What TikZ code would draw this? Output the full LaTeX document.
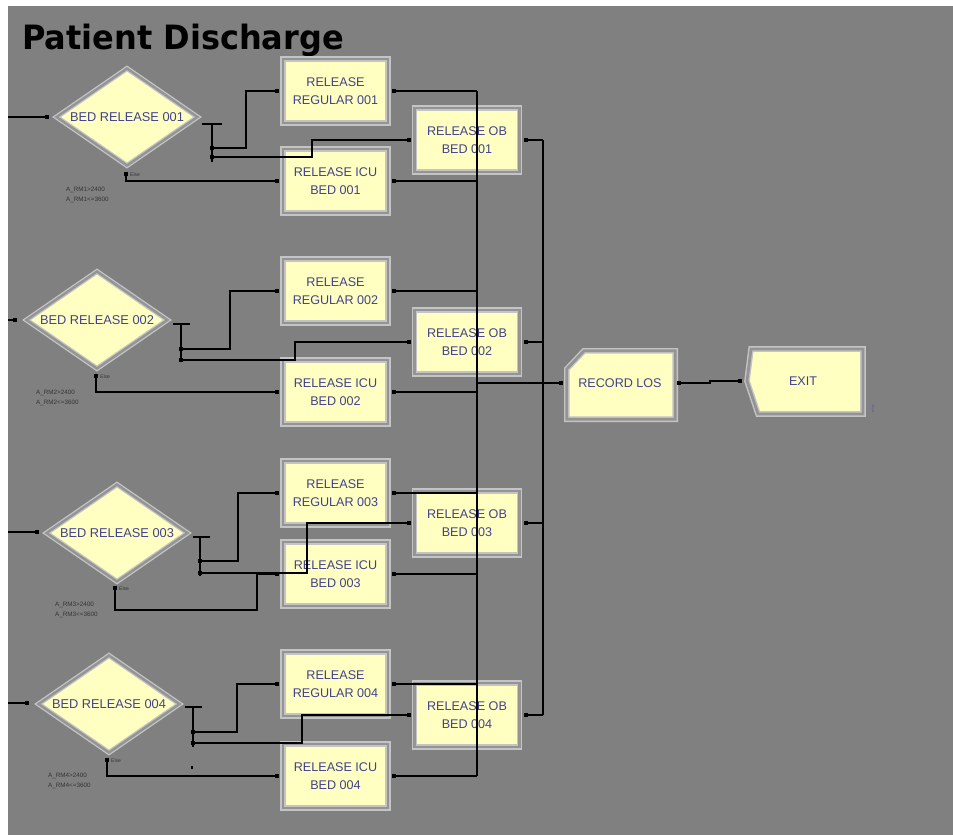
\documentclass[tikz,border=0pt]{standalone}
\usepackage{graphicx}
\usepackage{fontspec}
\setmainfont{Liberation Sans}
\newfontfamily\titlefont{DejaVu Sans}
\usetikzlibrary{shapes.geometric}
\definecolor{bggray}{RGB}{128,128,128}
\definecolor{modyellow}{RGB}{255,255,194}
\definecolor{framegray}{RGB}{196,196,196}
\definecolor{gapgray}{RGB}{148,148,148}
\definecolor{modtext}{RGB}{66,66,140}
\definecolor{lbltext}{RGB}{52,52,52}
\definecolor{cnttext}{RGB}{96,80,176}
\newcommand\mydot[1]{\fill[black] ([shift={(-2,-2)}]#1) rectangle ([shift={(2,2)}]#1);}
\begin{document}
\begin{tikzpicture}[x=1pt,y=-1pt,
  modbox/.style={rectangle, fill=modyellow, draw=framegray, line width=1.4pt,
    double=gapgray, double distance=2.8pt, minimum width=105pt, minimum height=64pt,
    inner sep=0pt, outer sep=6pt, align=center, text=modtext,
    font=\fontsize{12.6}{18}\selectfont},
  modshape/.style={fill=modyellow, draw=framegray, line width=1.4pt,
    double=gapgray, double distance=2.8pt},
  decide/.style={diamond, aspect=1.45, fill=modyellow, draw=framegray, line width=1.3pt,
    double=gapgray, double distance=2.4pt, minimum width=141pt, minimum height=97pt,
    inner sep=0pt, outer sep=0pt, text=modtext, font=\fontsize{12.8}{15}\selectfont},
  plain/.style={inner sep=0pt, text=modtext, font=\fontsize{12.6}{15}\selectfont},
  conn/.style={draw=black, line width=2pt},
  cond/.style={font=\fontsize{6.3}{7}\selectfont, text=lbltext, anchor=west, inner sep=0pt},
  elsetxt/.style={font=\fontsize{5}{6}\selectfont, text=lbltext, anchor=west, inner sep=0pt}
]
\useasboundingbox (0,0) rectangle (953,835);
\fill[white] (0,0) rectangle (953,835);
\fill[bggray] (8,6) rectangle (953,835);

% title
\node[anchor=base west, inner sep=0pt] (title) at (22,49)
  {\titlefont\bfseries\fontsize{33.5}{36}\selectfont\scalebox{0.955}[1]{Patient Discharge}};

% decide modules
\node[decide] (d1) at (127,117) {BED RELEASE 001};
\node[decide] (d2) at (97,320) {BED RELEASE 002};
\node[decide] (d3) at (117,533) {BED RELEASE 003};
\node[decide] (d4) at (109,704) {BED RELEASE 004};

% release modules
\node[modbox] (reg1) at (335.5,91) {RELEASE\\REGULAR 001};
\node[modbox] (icu1) at (335.5,181) {RELEASE ICU\\BED 001};
\node[modbox] (ob1) at (467,140) {RELEASE OB\\BED 001};
\node[modbox] (reg2) at (335.5,291) {RELEASE\\REGULAR 002};
\node[modbox] (ob2) at (467,342) {RELEASE OB\\BED 002};
\node[modbox] (icu2) at (335.5,392) {RELEASE ICU\\BED 002};
\node[modbox] (reg3) at (335.5,493) {RELEASE\\REGULAR 003};
\node[modbox] (ob3) at (467,523) {RELEASE OB\\BED 003};
\node[modbox] (icu3) at (335.5,574) {RELEASE ICU\\BED 003};
\node[modbox] (reg4) at (335.5,684) {RELEASE\\REGULAR 004};
\node[modbox] (ob4) at (467,715) {RELEASE OB\\BED 004};
\node[modbox] (icu4) at (335.5,776) {RELEASE ICU\\BED 004};

% record and exit
\path[modshape] (566.8,369) -- (584,350.8) -- (675.2,350.8) -- (675.2,419.2) -- (566.8,419.2) -- cycle;
\node[plain, minimum width=118pt, minimum height=70pt] (rec) at (620,383) {RECORD LOS};
\path[modshape] (751,349) -- (863,349) -- (863,414) -- (758,414) -- (747,381) -- cycle;
\node[plain, minimum width=126pt, minimum height=66pt] (exitn) at (803,381) {EXIT};
\node[inner sep=0pt, text=cnttext, font=\fontsize{9}{9}\selectfont] (cnt) at (873,409) {\scalebox{0.45}[1.2]{0}};

% condition labels
\node[cond] (c1a) at (66,190) {A\_RM1>2400};
\node[cond] (c1b) at (66,200) {A\_RM1<=3600};
\node[cond] (c2a) at (36,393) {A\_RM2>2400};
\node[cond] (c2b) at (36,403) {A\_RM2<=3600};
\node[cond] (c3a) at (55,605) {A\_RM3>2400};
\node[cond] (c3b) at (55,615) {A\_RM3<=3600};
\node[cond] (c4a) at (48,776) {A\_RM4>2400};
\node[cond] (c4b) at (48,786) {A\_RM4<=3600};

% ports of decide modules
\coordinate (src1) at (8,117);   \coordinate (d1in) at (47,117);
\coordinate (src2) at (8,320);   \coordinate (d2in) at (15,320);
\coordinate (src3) at (8,532);   \coordinate (d3in) at (37,532);
\coordinate (src4) at (8,703);   \coordinate (d4in) at (27,703);

\coordinate (d1s) at (202,124); \coordinate (d1t) at (212,124); \coordinate (d1u) at (212,162);
\coordinate (d1b1) at (212,148); \coordinate (d1b2) at (212,157); \coordinate (d1e) at (126,174);
\coordinate (d2s) at (173,324); \coordinate (d2t) at (181,324); \coordinate (d2u) at (181,362);
\coordinate (d2b1) at (181,349); \coordinate (d2b2) at (181,360); \coordinate (d2e) at (96,376);
\coordinate (d3s) at (193,537); \coordinate (d3t) at (200,537); \coordinate (d3u) at (200,576);
\coordinate (d3b1) at (200,561); \coordinate (d3b2) at (200,573); \coordinate (d3e) at (115,588);
\coordinate (d4s) at (185,707); \coordinate (d4t) at (193,707); \coordinate (d4u) at (193,747);
\coordinate (d4b1) at (193,732); \coordinate (d4b2) at (193,743); \coordinate (d4e) at (107,760);

\node[elsetxt] (e1) at (130,175) {Else};
\node[elsetxt] (e2) at (100,377) {Else};
\node[elsetxt] (e3) at (119,589) {Else};
\node[elsetxt] (e4) at (111,761) {Else};

% inputs
\draw[conn] (src1) -- (d1in);
\draw[conn] (src2) -- (d2in);
\draw[conn] (src3) -- (d3in);
\draw[conn] (src4) -- (d4in);

% exit bars
\draw[conn] (d1s) -- ++(20,0); \draw[conn] (d1t) -- (d1u);
\draw[conn] (d2s) -- ++(17,0); \draw[conn] (d2t) -- (d2u);
\draw[conn] (d3s) -- ++(17,0); \draw[conn] (d3t) -- (d3u);
\draw[conn] (d4s) -- ++(17,0); \draw[conn] (d4t) -- (d4u);

% branches
\draw[conn] (d1b1) -- (246,148) |- (reg1.west);
\draw[conn] (d1b2) -- (312,157) |- (ob1.west);
\draw[conn] (d1e) |- (icu1.west);
\draw[conn] (d2b1) -- (230,349) |- (reg2.west);
\draw[conn] (d2b2) -- (295,360) |- (ob2.west);
\draw[conn] (d2e) |- (icu2.west);
\draw[conn] (d3b1) -- (238,561) |- (reg3.west);
\draw[conn] (d3b2) -- (307,573) |- (ob3.west);
\draw[conn] (d3e) |- (257,610) |- (icu3.west);
\draw[conn] (d4b1) -- (237,732) |- (reg4.west);
\draw[conn] (d4b2) -- (302,743) |- (ob4.west);
\draw[conn] (d4e) |- (icu4.west);

% collecting buses
\coordinate (busA) at (477,0);
\coordinate (busB) at (543,0);
\foreach \n in {reg1,icu1,reg2,icu2,reg3,icu3,reg4,icu4}{
  \draw[conn] (\n.east) -- (\n.east -| busA);
}
\foreach \n in {ob1,ob2,ob3,ob4}{
  \draw[conn] (\n.east) -- (\n.east -| busB);
}
\draw[conn] (reg1.east -| busA) -- (icu4.east -| busA);
\draw[conn] (ob1.east -| busB) -- (ob4.east -| busB);
\draw[conn] (rec.west -| busA) -- (rec.west);
\draw[conn] (rec.east) -- ++(31,0) |- (exitn.west);

% port dots
\foreach \n in {reg1,icu1,ob1,reg2,icu2,ob2,reg3,icu3,ob3,reg4,icu4,ob4}{
  \mydot{\n.west} \mydot{\n.east}
}
\foreach \p in {d1in,d2in,d3in,d4in,d1b1,d1b2,d2b1,d2b2,d3b1,d3b2,d4b1,d4b2,d1e,d2e,d3e,d4e}{
  \mydot{\p}
}
\mydot{rec.west} \mydot{rec.east} \mydot{exitn.west}
\coordinate (stray) at (192,767);
\fill[black] ([shift={(-1,-1.5)}]stray) rectangle ([shift={(1,1.5)}]stray);
\end{tikzpicture}
\end{document}
